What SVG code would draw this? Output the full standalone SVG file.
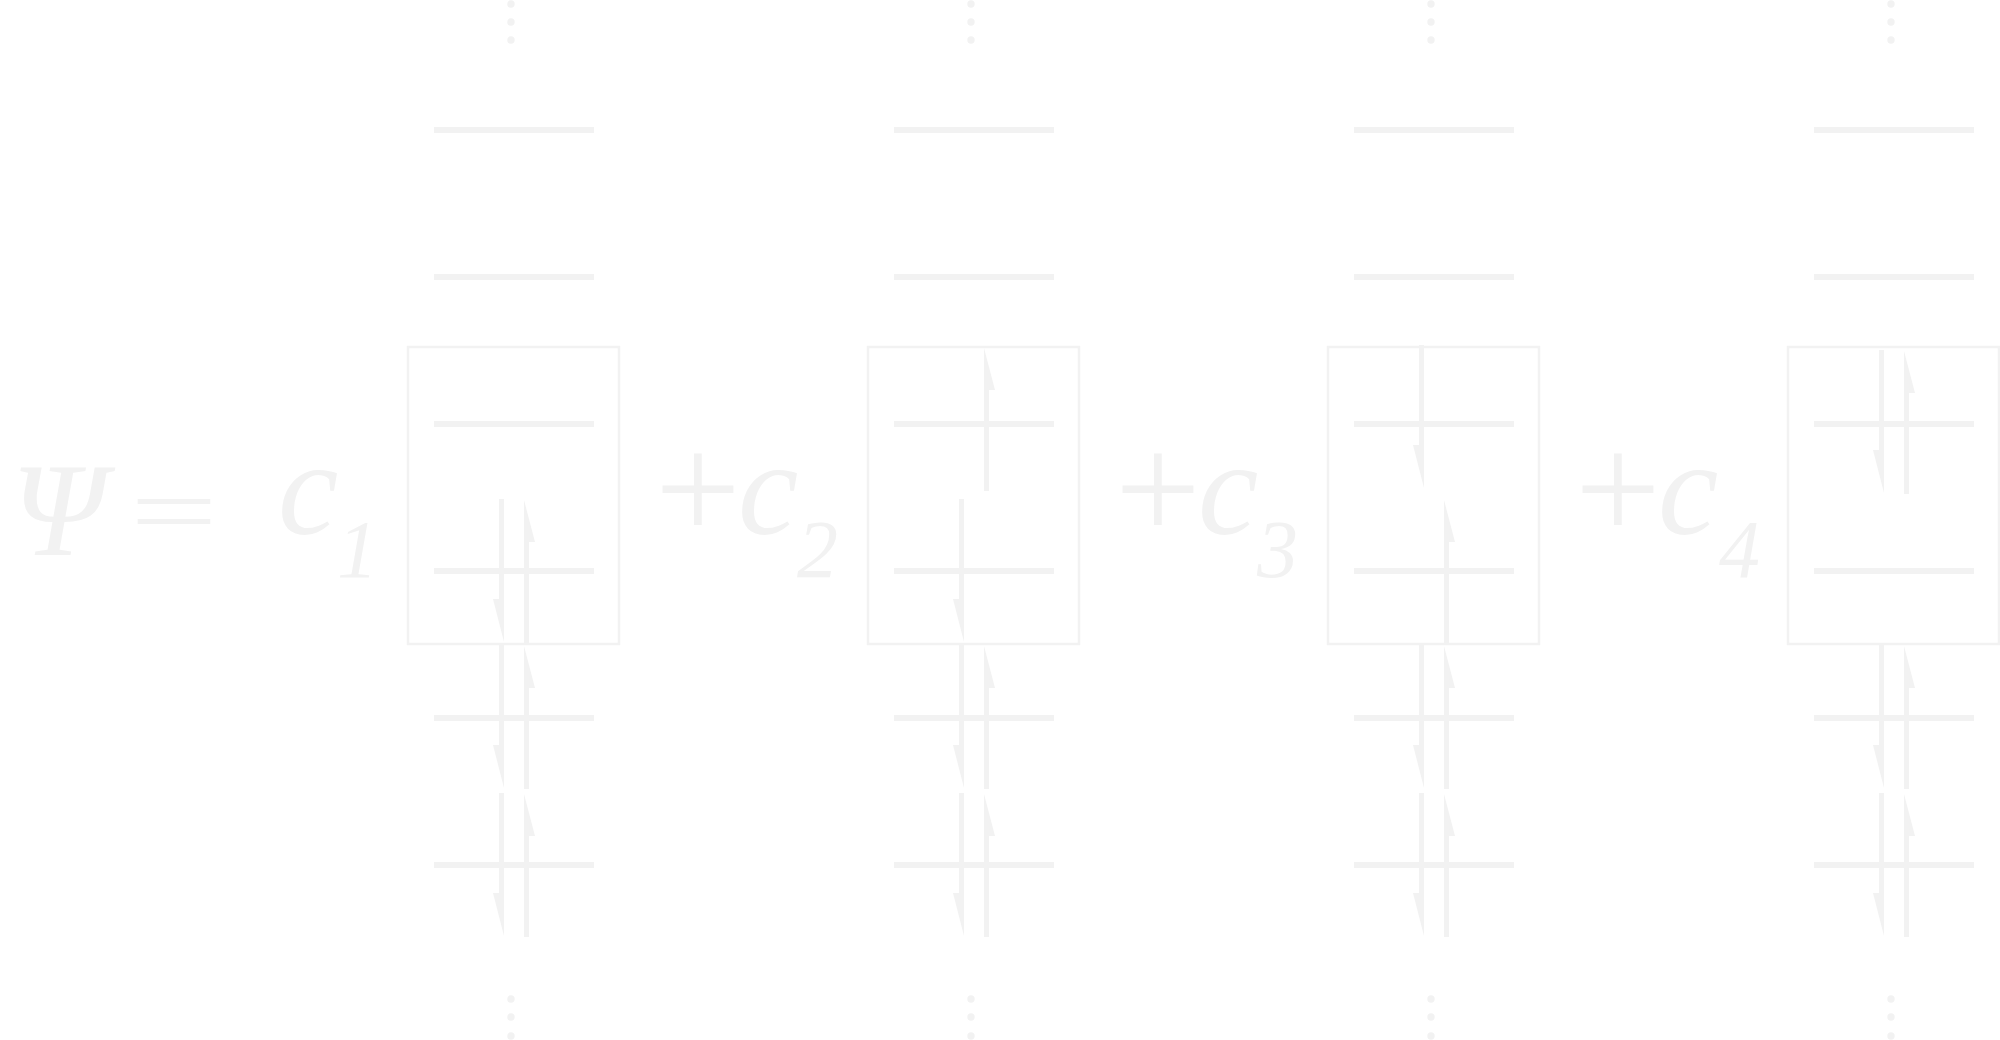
<svg xmlns="http://www.w3.org/2000/svg" width="2000" height="1040" viewBox="0 0 2000 1040">
<style>
.lvl{stroke:#f2f2f2;stroke-width:6;}
.box{fill:none;stroke:#f2f2f2;stroke-width:2.5;}
.arr{fill:#f2f2f2;}
.dot{fill:#f2f2f2;}
.m{font-family:"Liberation Serif",serif;font-style:italic;fill:#f2f2f2;}
.r{font-family:"Liberation Serif",serif;fill:#f2f2f2;}
</style>
<defs>
<g id="levels">
<line class="lvl" x1="434" y1="130" x2="594" y2="130"/>
<line class="lvl" x1="434" y1="277" x2="594" y2="277"/>
<line class="lvl" x1="434" y1="424" x2="594" y2="424"/>
<line class="lvl" x1="434" y1="571" x2="594" y2="571"/>
<line class="lvl" x1="434" y1="718" x2="594" y2="718"/>
<line class="lvl" x1="434" y1="865" x2="594" y2="865"/>
<circle class="dot" cx="511" cy="4" r="3.7"/>
<circle class="dot" cx="511" cy="22" r="3.7"/>
<circle class="dot" cx="511" cy="40" r="3.7"/>
<circle class="dot" cx="511" cy="999" r="3.7"/>
<circle class="dot" cx="511" cy="1017" r="3.7"/>
<circle class="dot" cx="511" cy="1036" r="3.7"/>
<rect class="box" x="408" y="347" width="211" height="297"/>
</g>
<polygon id="dn" class="arr" points="0,0 5,0 5,143 -6,100 0,100"/>
<polygon id="up" class="arr" points="0,0 11,42 5,42 5,143 0,143"/>
</defs>
<rect width="2000" height="1040" fill="#ffffff"/>
<g id="formula">
<text class="m" x="11" y="555" font-size="134">Ψ</text>
<text class="r" transform="translate(130,545) scale(1.145,0.75)" font-size="136">=</text>
</g>
<g id="term1">
<text class="m" x="278" y="534" font-size="136">c</text>
<text class="m" x="337" y="577" font-size="82">1</text>
<use href="#levels"/>
</g>
<g id="term2">
<text class="r" x="655" y="540" font-size="152">+</text>
<text class="m" x="738" y="534" font-size="136">c</text>
<text class="m" x="797" y="577" font-size="82">2</text>
<use href="#levels" x="460"/>
</g>
<g id="term3">
<text class="r" x="1115" y="540" font-size="152">+</text>
<text class="m" x="1198" y="534" font-size="136">c</text>
<text class="m" x="1257" y="577" font-size="82">3</text>
<use href="#levels" x="920"/>
</g>
<g id="term4">
<text class="r" x="1575" y="540" font-size="152">+</text>
<text class="m" x="1658" y="534" font-size="136">c</text>
<text class="m" x="1719" y="577" font-size="82">4</text>
<use href="#levels" x="1380"/>
</g>
<g id="spins">
<use href="#dn" x="499" y="499"/>
<use href="#up" x="524" y="500"/>
<use href="#dn" x="499" y="645"/>
<use href="#up" x="524" y="646"/>
<use href="#dn" x="499" y="793"/>
<use href="#up" x="524" y="794"/>

<use href="#up" x="984" y="348"/>
<use href="#dn" x="959" y="499"/>
<use href="#dn" x="959" y="645"/>
<use href="#up" x="984" y="646"/>
<use href="#dn" x="959" y="793"/>
<use href="#up" x="984" y="794"/>

<use href="#dn" x="1419" y="345"/>
<use href="#up" x="1444" y="500"/>
<use href="#dn" x="1419" y="645"/>
<use href="#up" x="1444" y="646"/>
<use href="#dn" x="1419" y="793"/>
<use href="#up" x="1444" y="794"/>

<use href="#dn" x="1879" y="350"/>
<use href="#up" x="1904" y="351"/>
<use href="#dn" x="1879" y="645"/>
<use href="#up" x="1904" y="646"/>
<use href="#dn" x="1879" y="793"/>
<use href="#up" x="1904" y="794"/>
</g>
</svg>
